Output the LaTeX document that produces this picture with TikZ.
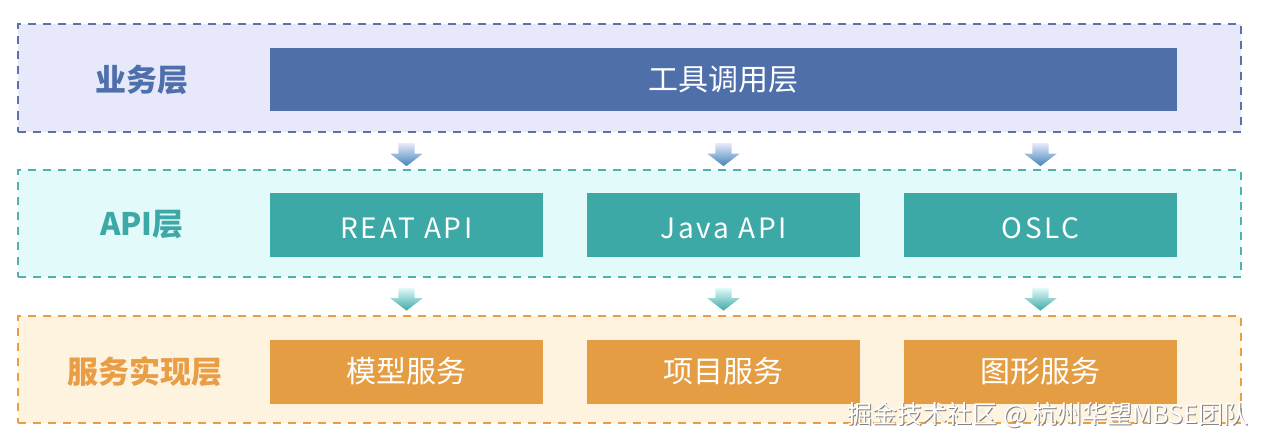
\documentclass[tikz,border=0pt]{standalone}
\usepackage{fontspec}
\setmainfont{Noto Sans CJK SC}
\usetikzlibrary{shapes.arrows, positioning}
\definecolor{bizbg}{HTML}{E7E9FB}
\definecolor{bizline}{HTML}{5D72AA}
\definecolor{bizfill}{HTML}{4E6FAA}
\definecolor{apibg}{HTML}{E3FAFA}
\definecolor{apiline}{HTML}{4DB3AB}
\definecolor{apifill}{HTML}{3DA9A6}
\definecolor{svcbg}{HTML}{FDF3DE}
\definecolor{svcline}{HTML}{E99D45}
\definecolor{svcfill}{HTML}{E49D42}
\begin{document}
\begin{tikzpicture}[x=1pt, y=-1pt,
    layer/.style={draw, line width=2pt, dash pattern=on 8pt off 7pt, minimum width=1223pt, minimum height=107pt, inner sep=0pt},
    block/.style={minimum width=273pt, minimum height=64pt, inner sep=0pt, text=white, font=\fontsize{30}{34}\selectfont},
    latin/.style={block, text height=28pt, text depth=2pt, font=\fontsize{28}{32}\selectfont\addfontfeatures{LetterSpace=10}},
    tag/.style={font=\bfseries\fontsize{31}{34}\selectfont},
    down/.style={single arrow, shape border rotate=270, draw=none, inner sep=8pt, minimum height=23pt, single arrow head extend=8pt, single arrow tip angle=105}]
    \useasboundingbox (0,0) rectangle (1266,444);

    \node[layer, fill=bizbg, draw=bizline] (biz) at (629.5,78) {};
    \node[layer, fill=apibg, draw=apiline] (api) at (629.5,223.5) {};
    \node[layer, fill=svcbg, draw=svcline] (svc) at (629.5,369) {};

    \node[tag, text=bizfill] (biztag) at (142,80) {业务层};
    \node[tag, text=apifill] (apitag) at (142,225) {API层};
    \node[tag, text=svcline] (svctag) at (145,372) {服务实现层};

    \node[block, fill=bizfill, minimum width=907pt, minimum height=63pt] (tool) at (723.5,79.5) {工具调用层};

    \node[latin, fill=apifill] (rest) at (406.5,225) {REAT API};
    \node[latin, fill=apifill] (java) at (723.5,225) {Java API};
    \node[latin, fill=apifill] (oslc) at (1040.5,225) {OSLC};

    \node[block, fill=svcfill] (model) at (406.5,371.5) {模型服务};
    \node[block, fill=svcfill] (proj) at (723.5,371.5) {项目服务};
    \node[block, fill=svcfill] (graph) at (1040.5,371.5) {图形服务};

    \foreach \x/\n in {406.5/1, 723.5/2, 1040.5/3} {
        \node[down, top color=bizbg, bottom color=bizfill!85!cyan] (up\n) at (\x,151.5) {};
        \node[down, top color=apibg, bottom color=apifill] (low\n) at (\x,296) {};
    }

    \node[text=gray, font=\fontsize{25}{28}\selectfont] (markshadow) at (1049,416) {掘金技术社区 @ 杭州华望MBSE团队};
    \node[text=white, font=\fontsize{25}{28}\selectfont] (mark) at (1048,415) {掘金技术社区 @ 杭州华望MBSE团队};
\end{tikzpicture}
\end{document}
